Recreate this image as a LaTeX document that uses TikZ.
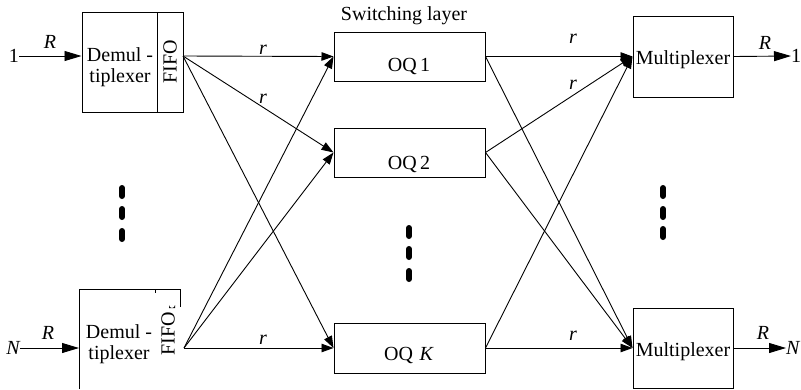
\documentclass[tikz,border=0pt]{standalone}
\usepackage{fontspec}
\setmainfont{Liberation Serif}
\usetikzlibrary{arrows.meta}
\begin{document}
\begin{tikzpicture}[x=1pt,y=-1pt,
  txt/.style={font=\fontsize{20}{21}\selectfont, inner sep=0pt},
  lbl/.style={font=\fontsize{20}{21}\selectfont\itshape, inner sep=0pt},
  box/.style={draw, line width=1pt, inner sep=0pt},
  bigarr/.style={line width=0.9pt, -{Triangle[length=17pt,width=10pt]}},
  smarr/.style={line width=0.9pt, -{Triangle[length=12pt,width=8.5pt]}},
  vdot/.style={line width=6pt, line cap=round}]
\useasboundingbox (0,0) rectangle (801,389);

% top demultiplexer
\node[box, minimum width=101pt, minimum height=100pt] (d1) at (132.5,62) {};
\node[box, minimum width=26pt, minimum height=100pt] (f1) at (170,62) {};
\node[txt, rotate=90] (f1t) at (170,62) {FIFO};
\node[txt, align=center] (d1t) at (120,67) {Demul -\\tiplexer};
\coordinate (f1out) at (183,56);
\node[txt, anchor=east] (in1) at (19,56) {1};
\node[lbl] (R1) at (50,42) {R};
\draw[bigarr] (in1.east) -- (d1.west |- in1.east);

% bottom demultiplexer (partly visible)
\coordinate (d2tl) at (79,289);
\coordinate (d2tr) at (180,289);
\coordinate (d2bl) at (79,389);
\draw[line width=1pt] (d2bl) -- (d2tl) -- (d2tr) -- (180,307);
\draw[line width=1pt] (155,289) -- (155,293);
\fill (169,308) -- (169,305) arc (180:0:3) -- (175,308) -- cycle;
\node[txt, rotate=90] (f2t) at (168,334) {FIFO};
\node[txt, align=center] (d2t) at (119,344) {Demul -\\tiplexer};
\coordinate (f2out) at (184,348);
\coordinate (d2in) at (79,348);
\node[lbl, anchor=east] (inN) at (20,348) {N};
\node[lbl] (R2) at (48,333) {R};
\draw[bigarr] (inN.east) -- (d2in);

% switching layer
\node[txt] (sw) at (404,16) {Switching layer};
\node[box, minimum width=151pt, minimum height=49pt] (oq1) at (409.5,56.5) {};
\node[txt] (oq1t) at (409,66) {OQ\,1};
\node[box, minimum width=151pt, minimum height=49pt] (oq2) at (409.5,152.5) {};
\node[txt] (oq2t) at (409,164) {OQ\,2};
\node[box, minimum width=151pt, minimum height=50pt] (oqk) at (409.5,348) {};
\node[txt] (oqkt) at (409,355) {OQ\,\,\textit{K}};

% multiplexers
\node[box, minimum width=100pt, minimum height=81pt] (m1) at (683,56.5) {};
\node[txt] (m1t) at (683,60) {Multiplexer};
\node[box, minimum width=100pt, minimum height=80pt] (mn) at (683,348) {};
\node[txt] (mnt) at (683,352) {Multiplexer};

% outputs
\node[txt, anchor=west] (out1) at (791,56) {1};
\node[lbl] (R3) at (765,43) {R};
\draw[bigarr] (m1.east) -- (out1.west);
\node[lbl, anchor=west] (outN) at (786,348) {N};
\node[lbl] (R4) at (763,333) {R};
\draw[bigarr] (mn.east |- outN.west) -- (outN.west);

% fan-out from demultiplexers
\draw[smarr] (f1out) -- (oq1.west);
\draw[smarr] (f1out) -- (oq2.west);
\draw[smarr] (f1out) -- (oqk.west);
\draw[smarr] (f2out) -- (oq1.west);
\draw[smarr] (f2out) -- (oq2.west);
\draw[smarr] (f2out) -- (oqk.west);
\node[lbl] (r1) at (263,50) {r};
\node[lbl] (r2) at (263,99) {r};
\node[lbl] (r3) at (263,340) {r};

% switching layer to multiplexers
\draw[smarr] (oq1.east) -- (m1.west);
\draw[smarr] (oq2.east) -- (m1.west);
\draw[smarr] (oqk.east) -- (m1.west);
\draw[smarr] (oq1.east) -- (mn.west);
\draw[smarr] (oq2.east) -- (mn.west);
\draw[smarr] (oqk.east) -- (mn.west);
\node[lbl] (r4) at (573,39) {r};
\node[lbl] (r5) at (573,85) {r};
\node[lbl] (r6) at (573,336) {r};

% vertical ellipses
\foreach \y in {192,213,235} \draw[vdot] (122,\y-4) -- (122,\y+4);
\foreach \y in {232,253,275} \draw[vdot] (409,\y-4) -- (409,\y+4);
\foreach \y in {192,213,233} \draw[vdot] (663,\y-4) -- (663,\y+4);
\end{tikzpicture}
\end{document}
